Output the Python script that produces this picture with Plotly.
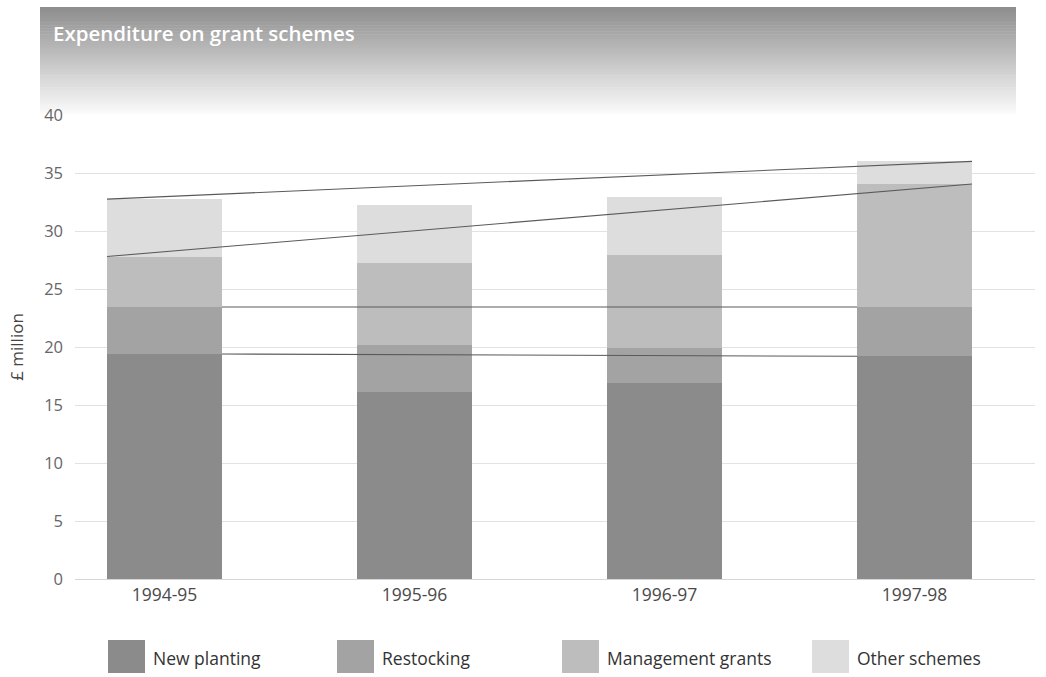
import plotly.graph_objects as go
import numpy as np

# Grant scheme expenditure, £ million
years = ["1994-95", "1995-96", "1996-97", "1997-98"]
new_planting = [19.4, 16.1, 16.9, 19.2]
restocking = [4.05, 4.1, 3.0, 4.25]
management_grants = [4.35, 7.0, 8.0, 10.6]
other_schemes = [4.95, 5.0, 5.0, 1.95]

series_names = ["New planting", "Restocking", "Management grants", "Other schemes"]
series_values = [new_planting, restocking, management_grants, other_schemes]
series_colors = ["#8b8b8b", "#a3a3a3", "#bdbdbd", "#dddddd"]

W, H = 1046, 677
M_L, M_R, M_T, M_B = 75, 11, 115, 98
PW, PH = W - M_L - M_R, H - M_T - M_B
BAR_W = 0.46
xpos = list(range(len(years)))


def px_x(p):
    return (p - M_L) / PW


def px_y(p):
    return (H - M_B - p) / PH


fig = go.Figure()

for name, vals, col in zip(series_names, series_values, series_colors):
    fig.add_trace(go.Bar(
        x=xpos, y=vals, name=name, width=BAR_W,
        marker=dict(color=col, line=dict(width=0)),
        showlegend=False,
    ))

# Connector lines between the first and last year's cumulative segment tops
cum = np.cumsum(np.array(series_values), axis=0)
first, last = 0, len(years) - 1
for i in range(len(series_names)):
    if i < 2:
        xs = [first + BAR_W / 2, last - BAR_W / 2]
    else:
        xs = [first - BAR_W / 2, last + BAR_W / 2]
    fig.add_trace(go.Scatter(
        x=xs, y=[cum[i][first], cum[i][last]], mode="lines",
        line=dict(color="#5a5a5a", width=1.1), showlegend=False,
        hoverinfo="skip",
    ))

shapes = []
annotations = []

# Title banner with a vertical grey gradient
b_left, b_right, b_top, b_bot = 40, 1016, 7, 113
n_strips = 70
c_top, c_bot = np.array([0x8e, 0x8e, 0x8e]), np.array([0xfa, 0xfa, 0xfa])
for k in range(n_strips):
    t = k / (n_strips - 1)
    c = (c_top + (c_bot - c_top) * t).astype(int)
    y0 = b_top + (b_bot - b_top) * k / n_strips
    y1 = b_top + (b_bot - b_top) * (k + 1) / n_strips + 0.6
    shapes.append(dict(
        type="rect", xref="paper", yref="paper", layer="below",
        x0=px_x(b_left), x1=px_x(b_right), y0=px_y(y1), y1=px_y(y0),
        fillcolor=f"rgb({c[0]},{c[1]},{c[2]})", line=dict(width=0),
    ))

annotations.append(dict(
    text="Expenditure on grant schemes", xref="paper", yref="paper",
    x=px_x(51), y=px_y(33), xanchor="left", yanchor="middle", showarrow=False,
    font=dict(family="Open Sans", size=20.5, color="white", weight=600),
))

# Legend row
legend_sq = [108, 337, 562, 812]
for name, col, x0 in zip(series_names, series_colors, legend_sq):
    shapes.append(dict(
        type="rect", xref="paper", yref="paper",
        x0=px_x(x0), x1=px_x(x0 + 37), y0=px_y(673), y1=px_y(640),
        fillcolor=col, line=dict(width=0),
    ))
    annotations.append(dict(
        text=name, xref="paper", yref="paper",
        x=px_x(x0 + 43), y=px_y(658), xanchor="left", yanchor="middle",
        showarrow=False, font=dict(family="Open Sans", size=17.5, color="#333333"),
    ))

fig.update_layout(
    width=W, height=H,
    margin=dict(l=M_L, r=M_R, t=M_T, b=M_B),
    paper_bgcolor="white", plot_bgcolor="white",
    barmode="stack", bargap=0,
    shapes=shapes, annotations=annotations,
    font=dict(family="Open Sans", color="#555555"),
    xaxis=dict(
        range=[-0.358, 3.482], tickvals=xpos, ticktext=years,
        showgrid=False, zeroline=False, showline=False, ticks="",
        tickfont=dict(size=17.5, color="#4a4a4a"), ticklabelstandoff=3,
    ),
    yaxis=dict(
        range=[0, 40], tickvals=list(range(0, 41, 5)),
        showgrid=True, gridcolor="#e2e2e2", gridwidth=1,
        zeroline=True, zerolinecolor="#d6d6d6", zerolinewidth=1,
        showline=False, ticks="",
        tickfont=dict(size=16.5, color="#666666"), ticklabelstandoff=11,
        title=dict(text="£ million", font=dict(size=17, color="#444444"), standoff=16),
    ),
)

fig.write_html("out.html")
